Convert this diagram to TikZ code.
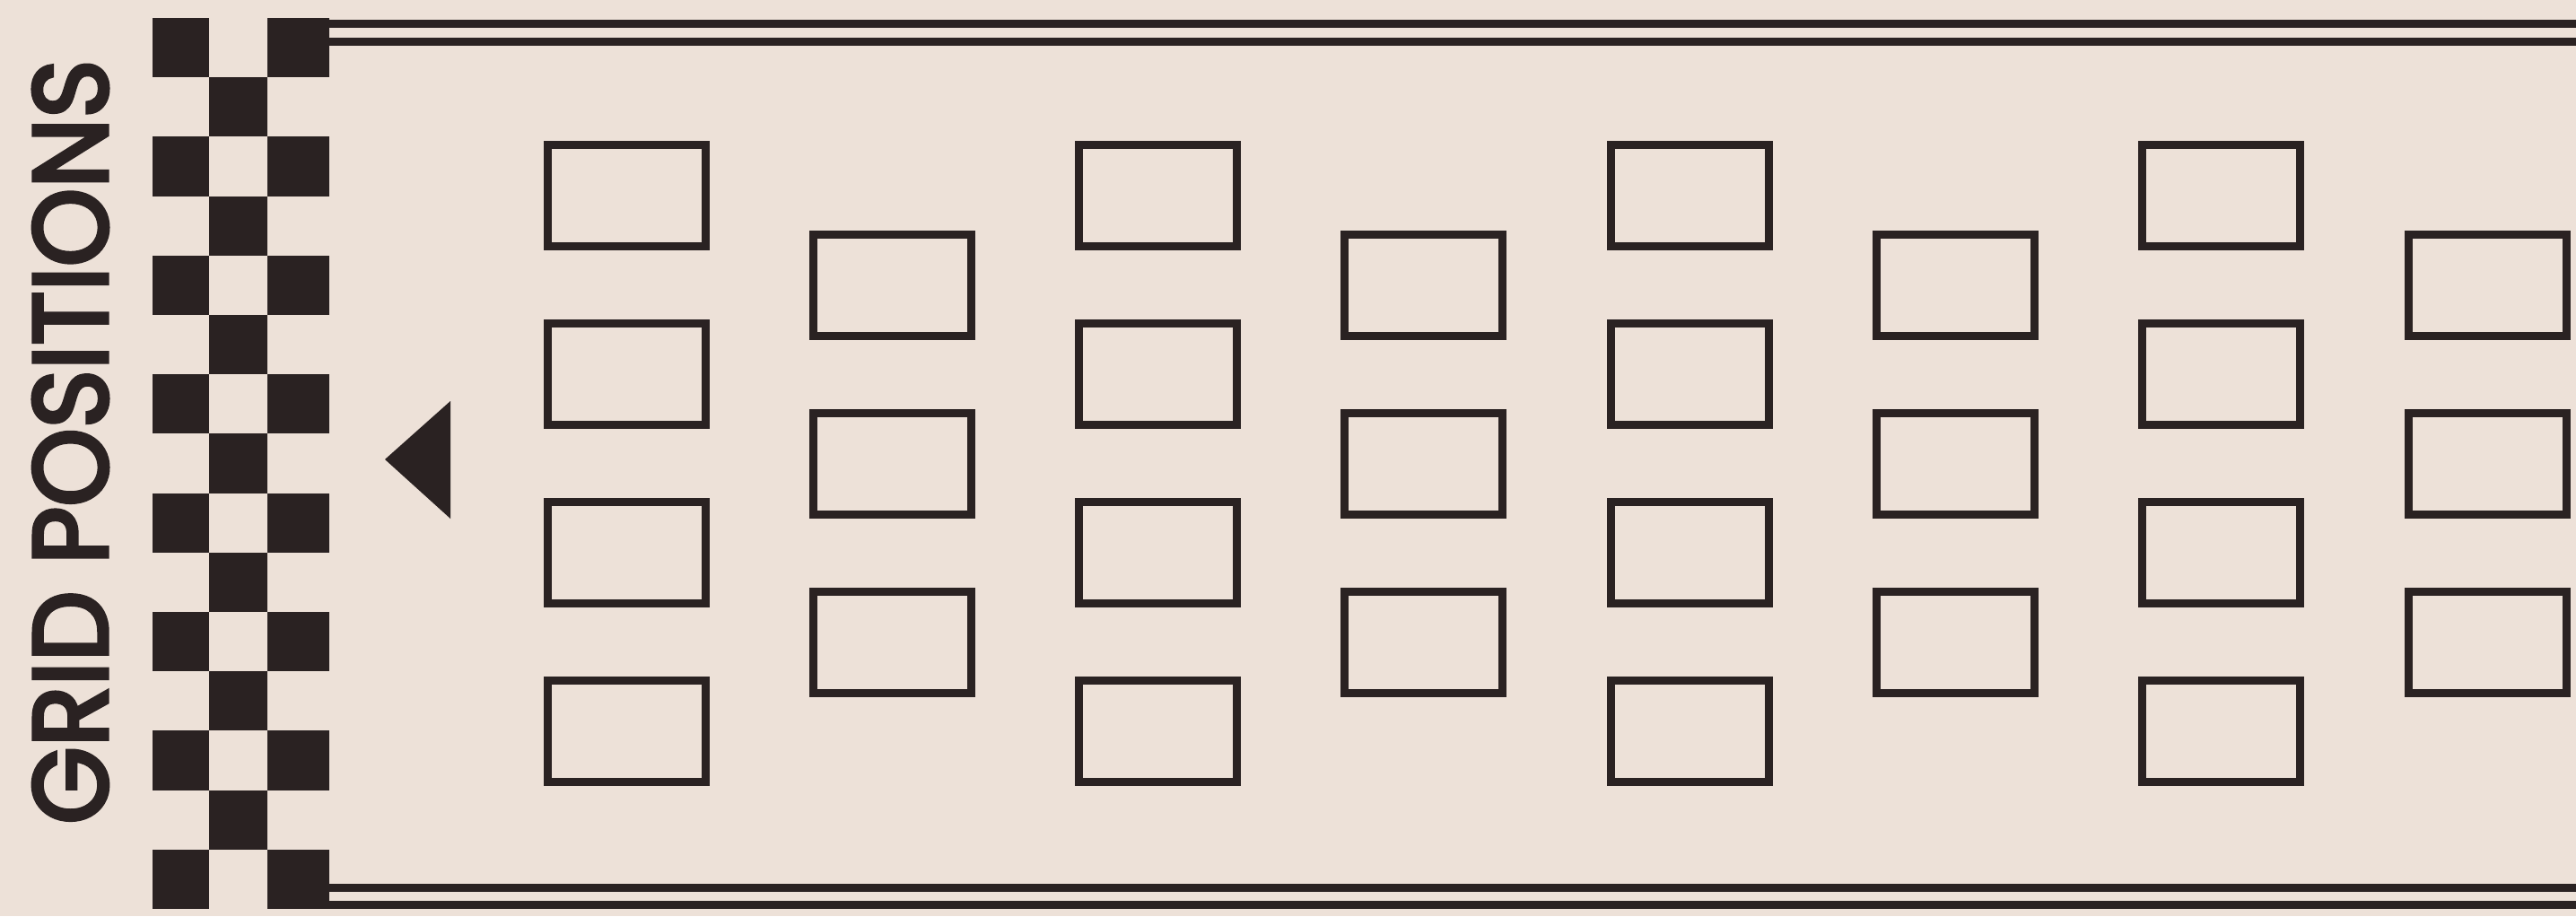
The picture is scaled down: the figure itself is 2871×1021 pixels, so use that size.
\documentclass[tikz,border=0pt]{standalone}
\usepackage{fontspec}
\usepackage{xcolor}
\usepackage{tikz}
\usetikzlibrary{positioning}
\newfontfamily\gridfont{Poppins}[FakeBold=4]
\definecolor{paper}{HTML}{EDE1D8}
\definecolor{ink}{HTML}{2A2222}
\tikzset{
  slotbox/.style={draw=ink, line width=9pt, minimum width=176pt, minimum height=113pt, inner sep=0pt},
  flagsq/.style={fill=ink},
  railline/.style={draw=ink, line width=9pt},
  gridlabel/.style={font=\gridfont\fontsize{117}{117}\selectfont, text=ink, inner sep=0pt},
  starttri/.style={fill=ink}
}

\begin{document}
\begin{tikzpicture}[x=1pt, y=-1pt]
  \useasboundingbox (0,0) rectangle (2871,1021);
  \fill[paper] (0,0) rectangle (2871,1021);

  % Vertical title beside the chequered flag
  \node[gridlabel, rotate=90] (title) at (78.5,492.5) {\scalebox{0.95}[1]{GRID POSITIONS}};

  % Chequered flag: three columns of squares
  \foreach \r in {0,2,...,14} {
    \fill[flagsq] (170,{20+66.2*\r}) rectangle (233,{86.2+66.2*\r});
    \fill[flagsq] (298,{20+66.2*\r}) rectangle (367,{86.2+66.2*\r});
  }
  \foreach \r in {1,3,...,13}
    \fill[flagsq] (233,{20+66.2*\r}) rectangle (298,{86.2+66.2*\r});

  % Double rails along top and bottom edges
  \coordinate (railTL) at (367,26);
  \coordinate (railTR) at (2871,26);
  \draw[railline] (railTL) -- (railTR);
  \draw[railline] ([yshift=-20.5pt]railTL) -- ([yshift=-20.5pt]railTR);
  \coordinate (railBL) at (367,989);
  \coordinate (railBR) at (2871,989);
  \draw[railline] (railBL) -- (railBR);
  \draw[railline] ([yshift=-19pt]railBL) -- ([yshift=-19pt]railBR);

  % Start marker
  \fill[starttri] (429,512) -- (502,447) -- (502,578) -- cycle;

  % Grid slots: odd columns hold four cars, even columns three
  \foreach \c in {1,3,5,7}
    \foreach \r in {1,...,4}
      \node[slotbox] (slot-\c-\r) at ({698+296.3*(\c-1)},{218+199*(\r-1)}) {};
  \foreach \c in {2,4,6,8}
    \foreach \r in {1,...,3}
      \node[slotbox] (slot-\c-\r) at ({698+296.3*(\c-1)},{318+199*(\r-1)}) {};
\end{tikzpicture}
\end{document}
